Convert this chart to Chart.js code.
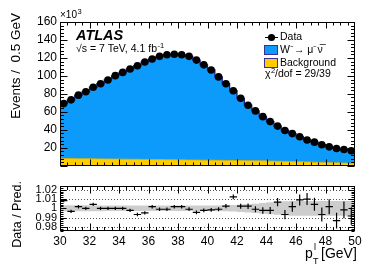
<!DOCTYPE html>
<html>
<head>
<meta charset="utf-8">
<script src="https://cdn.jsdelivr.net/npm/chart.js@4"></script>
<style>
html, body { margin: 0; padding: 0; background: #fff; }
#wrap { position: relative; width: 374px; height: 268px; }
#top { position: absolute; left: 0; top: 0; width: 374px; height: 176px; }
#bot { position: absolute; left: 0; top: 176px; width: 374px; height: 92px; }
</style>
</head>
<body>
<div id="wrap">
  <div id="top"><canvas id="mainChart"></canvas></div>
  <div id="bot"><canvas id="ratioChart"></canvas></div>
</div>
<script>
// bin centres of the muon pT histogram, 0.5 GeV bins
const binCenters = [30.25, 30.75, 31.25, 31.75, 32.25, 32.75, 33.25, 33.75, 34.25, 34.75,
    35.25, 35.75, 36.25, 36.75, 37.25, 37.75, 38.25, 38.75, 39.25, 39.75,
    40.25, 40.75, 41.25, 41.75, 42.25, 42.75, 43.25, 43.75, 44.25, 44.75,
    45.25, 45.75, 46.25, 46.75, 47.25, 47.75, 48.25, 48.75, 49.25, 49.75];
const binHalf = 0.25;

// events per bin, in units of 10^3
const dataEvents = [69.2, 73.4, 78.6, 82.4, 87.4, 91.3, 95.5, 100.3, 103.9, 107.7,
    111.3, 115.5, 118.9, 121.8, 123.5, 124.2, 123.5, 121.8, 117.6, 112.3,
    106.6, 98.9, 91.3, 83.5, 75.1, 67.4, 61.1, 54.7, 49.2, 44.2,
    39.3, 35.8, 32.3, 28.7, 26.3, 23.5, 21.1, 19.3, 18.2, 16.8];
const sigW = [61.1, 65.4, 70.7, 74.5, 79.6, 83.6, 87.9, 92.8, 96.5, 100.4,
    104.1, 108.4, 111.9, 114.9, 116.7, 117.5, 116.9, 115.3, 111.2, 106.0,
    100.4, 92.8, 85.3, 77.6, 69.3, 61.7, 55.5, 49.2, 43.9, 39.1,
    34.4, 31.1, 27.8, 24.4, 22.3, 19.7, 17.6, 16.0, 15.2, 14.0];
const bkg = [8.1, 8.0, 7.9, 7.9, 7.8, 7.7, 7.6, 7.5, 7.4, 7.3,
    7.2, 7.1, 7.0, 6.9, 6.8, 6.7, 6.6, 6.5, 6.4, 6.3,
    6.2, 6.1, 6.0, 5.9, 5.8, 5.7, 5.6, 5.5, 5.3, 5.1,
    4.9, 4.7, 4.5, 4.3, 4.0, 3.8, 3.5, 3.3, 3.0, 2.8];

// Data / Pred. panel
const ratio = [1.0083, 0.9967, 1.0017, 1.0, 1.0043, 1.0, 1.0, 1.0, 1.0, 0.9977,
    0.9933, 0.995, 1.0017, 0.999, 0.999, 1.0017, 1.0017, 0.999, 0.9957, 0.9977,
    0.9983, 0.999, 1.0023, 1.0123, 1.0023, 1.0023, 0.999, 0.9977, 0.9977, 1.0067,
    0.9933, 1.0017, 1.009, 1.01, 1.0043, 0.9933, 1.0017, 0.9867, 0.9983, 0.9917];
const ratioErr = [0.0018, 0.0018, 0.0018, 0.0018, 0.0018, 0.0018, 0.0018, 0.0018, 0.0018, 0.0018,
    0.0018, 0.0018, 0.0018, 0.0018, 0.0018, 0.0018, 0.0019, 0.002, 0.002, 0.002,
    0.0021, 0.0022, 0.0023, 0.0025, 0.0027, 0.003, 0.0032, 0.0035, 0.0038, 0.0045,
    0.005, 0.0055, 0.006, 0.0065, 0.007, 0.0075, 0.008, 0.0085, 0.009, 0.0095];
const systBand = [0.0033, 0.0033, 0.0032, 0.0032, 0.0031, 0.0031, 0.003, 0.003, 0.003, 0.003,
    0.003, 0.003, 0.003, 0.003, 0.003, 0.003, 0.003, 0.003, 0.003, 0.003,
    0.003, 0.0031, 0.0032, 0.0035, 0.004, 0.0045, 0.005, 0.0058, 0.0065, 0.007,
    0.0075, 0.008, 0.008, 0.008, 0.008, 0.008, 0.008, 0.008, 0.008, 0.008];

const ratioDotted = [0.98, 0.99, 1.01, 1.02];

const FONT = "'Liberation Sans', Arial, Helvetica, sans-serif";
const BLUE = '#0d9bfb';
const YELLOW = '#ffcc00';
Chart.defaults.font.family = FONT;
Chart.defaults.color = '#000';

// stepped histogram outline: value held from left bin edge to next edge
function steps(vals) {
    const pts = binCenters.map((c, i) => ({ x: c - binHalf, y: vals[i] }));
    pts.push({ x: binCenters[binCenters.length - 1] + binHalf, y: vals[vals.length - 1] });
    return pts;
}

const predTotal = sigW.map((v, i) => v + bkg[i]);

// ROOT style frame with inward ticks on all four sides
const rootFrame = {
    id: 'rootFrame',
    afterDraw(chart, args, o) {
        const { ctx, chartArea: a, scales: { x, y } } = chart;
        ctx.save();
        ctx.strokeStyle = '#000';
        ctx.lineWidth = 1;
        const L = Math.round(a.left) + 0.5, R = Math.round(a.right) - 0.5;
        const T = Math.round(a.top) + 0.5, B = Math.round(a.bottom) - 0.5;
        ctx.strokeRect(L, T, R - L, B - T);
        ctx.beginPath();
        let n = Math.round((x.max - x.min) / o.xMinor);
        for (let i = 1; i < n; i++) {
            const v = x.min + i * o.xMinor;
            const len = (i % o.xDiv === 0) ? o.xMajorLen : o.xMinorLen;
            const px = Math.round(x.getPixelForValue(v)) + 0.5;
            ctx.moveTo(px, B); ctx.lineTo(px, B - len);
            ctx.moveTo(px, T); ctx.lineTo(px, T + len);
        }
        const y0 = Math.ceil(y.min / o.yMinor - 1e-6);
        const y1 = Math.floor(y.max / o.yMinor + 1e-6);
        for (let k = y0; k <= y1; k++) {
            const v = k * o.yMinor;
            const major = Math.abs(k % o.yDiv) === 0;
            const len = major ? o.yMajorLen : o.yMinorLen;
            const py = Math.round(y.getPixelForValue(v)) + 0.5;
            ctx.moveTo(L, py); ctx.lineTo(L + len, py);
            ctx.moveTo(R, py); ctx.lineTo(R - len, py);
        }
        ctx.stroke();
        ctx.restore();
    }
};

function supText(ctx, base, sup, x, y, size, supSize) {
    ctx.font = size + 'px ' + FONT;
    ctx.fillText(base, x, y);
    const w = ctx.measureText(base).width;
    ctx.font = supSize + 'px ' + FONT;
    ctx.fillText(sup, x + w + 0.5, y - size * 0.4);
}

const mainText = {
    id: 'mainText',
    afterDraw(chart) {
        const ctx = chart.ctx;
        ctx.save();
        ctx.fillStyle = '#000';
        ctx.textBaseline = 'alphabetic';
        ctx.textAlign = 'left';
        // exponent of the y axis
        supText(ctx, '\u00d710', '3', 60, 18, 10, 7.5);

        ctx.font = 'bold italic 14.5px ' + FONT;
        ctx.fillText('ATLAS', 76, 40);
        supText(ctx, '\u221as = 7 TeV, 4.1 fb', '-1', 76, 52, 10.5, 7.5);

        // legend
        ctx.strokeStyle = '#000';
        ctx.lineWidth = 1;
        ctx.beginPath(); ctx.moveTo(265, 37.5); ctx.lineTo(278, 37.5); ctx.stroke();
        ctx.beginPath(); ctx.arc(271.5, 37.5, 3.6, 0, Math.PI * 2); ctx.fill();
        ctx.font = '10.5px ' + FONT;
        ctx.textBaseline = 'middle';
        ctx.fillText('Data', 280, 37.5);

        ctx.strokeStyle = '#3b2f96';
        ctx.fillStyle = BLUE;
        ctx.fillRect(264.5, 45.5, 13, 9);
        ctx.strokeRect(264.5, 45.5, 13, 9);
        ctx.fillStyle = YELLOW;
        ctx.fillRect(264.5, 58.5, 13, 9);
        ctx.strokeRect(264.5, 58.5, 13, 9);
        ctx.fillStyle = '#000';
        ctx.fillText('W\u207b\u2192 \u03bc\u207b\u03bd\u0305', 280, 50);
        ctx.fillText('Background', 280, 63);
        ctx.textBaseline = 'alphabetic';
        supText(ctx, '\u03c7', '2', 265, 77, 10.5, 7.5);
        ctx.font = '10.5px ' + FONT;
        ctx.fillText('/dof = 29/39', 275, 77);

        // y title
        ctx.save();
        ctx.translate(16.5, 13);
        ctx.rotate(-Math.PI / 2);
        ctx.textAlign = 'right';
        ctx.textBaseline = 'middle';
        ctx.font = '13.5px ' + FONT;
        ctx.fillText('Events /  0.5 GeV', 0, 0);
        ctx.restore();
        ctx.restore();
    }
};

const ratioText = {
    id: 'ratioText',
    beforeDatasetsDraw(chart) {
        const { ctx, chartArea: a, scales: { y } } = chart;
        ctx.save();
        ctx.strokeStyle = '#555';
        ctx.lineWidth = 1;
        ctx.setLineDash([1, 2]);
        ctx.beginPath();
        ratioDotted.forEach(v => {
            const py = Math.round(y.getPixelForValue(v)) + 0.5;
            ctx.moveTo(a.left, py); ctx.lineTo(a.right, py);
        });
        ctx.stroke();
        ctx.restore();
    },
    afterDraw(chart) {
        const ctx = chart.ctx;
        ctx.save();
        ctx.fillStyle = '#000';
        ctx.save();
        ctx.translate(18, 5);
        ctx.rotate(-Math.PI / 2);
        ctx.textAlign = 'right';
        ctx.textBaseline = 'middle';
        ctx.font = '12.5px ' + FONT;
        ctx.fillText('Data / Pred.', 0, 0);
        ctx.restore();

        // x title: p_T^l [GeV]
        ctx.textBaseline = 'alphabetic';
        ctx.textAlign = 'left';
        ctx.font = '14px ' + FONT;
        ctx.fillText('p', 305, 82);
        ctx.font = '9px ' + FONT;
        ctx.fillText('l', 314, 74);
        ctx.fillText('T', 313, 88);
        ctx.font = '14px ' + FONT;
        ctx.fillText('[GeV]', 321, 82);
        ctx.restore();
    }
};

const errorBars = {
    id: 'errorBars',
    afterDatasetsDraw(chart) {
        const { ctx, chartArea: a, scales: { x, y } } = chart;
        ctx.save();
        ctx.beginPath();
        ctx.rect(a.left, a.top, a.right - a.left, a.bottom - a.top);
        ctx.clip();
        ctx.strokeStyle = '#000';
        ctx.lineWidth = 1.2;
        ctx.beginPath();
        binCenters.forEach((c, i) => {
            const px = x.getPixelForValue(c);
            const py = y.getPixelForValue(ratio[i]);
            ctx.moveTo(x.getPixelForValue(c - binHalf), py);
            ctx.lineTo(x.getPixelForValue(c + binHalf), py);
            ctx.moveTo(px, y.getPixelForValue(ratio[i] - ratioErr[i]));
            ctx.lineTo(px, y.getPixelForValue(ratio[i] + ratioErr[i]));
        });
        ctx.stroke();
        ctx.restore();
    }
};

const mainChart = new Chart(document.getElementById('mainChart'), {
    type: 'line',
    data: {
        datasets: [{
            label: 'Data',
            data: binCenters.map((c, i) => ({ x: c, y: dataEvents[i] })),
            showLine: false,
            pointRadius: 3.8,
            pointBackgroundColor: '#000',
            pointBorderWidth: 0
        }, {
            label: 'Background',
            data: steps(bkg),
            stepped: true,
            fill: 'origin',
            backgroundColor: YELLOW,
            borderColor: '#e0b000',
            borderWidth: 0.8,
            pointRadius: 0
        }, {
            label: 'W -> mu nu',
            data: steps(predTotal),
            stepped: true,
            fill: 'origin',
            backgroundColor: BLUE,
            borderColor: '#1f1f9e',
            borderWidth: 1.3,
            pointRadius: 0
        }]
    },
    options: {
        responsive: true,
        maintainAspectRatio: false,
        animation: false,
        events: [],
        layout: { padding: { top: 22, right: 19, bottom: 2, left: 0 } },
        plugins: {
            legend: { display: false },
            tooltip: { enabled: false },
            rootFrame: { xMinor: 0.5, xDiv: 4, xMajorLen: 6, xMinorLen: 3, yMinor: 4, yDiv: 5, yMajorLen: 7, yMinorLen: 3.5 }
        },
        scales: {
            x: { type: 'linear', min: 30, max: 50, display: false },
            y: {
                min: 0,
                max: 160,
                afterFit(scale) { scale.width = 60; },
                grid: { display: false, drawTicks: false },
                border: { display: false },
                ticks: {
                    stepSize: 20,
                    padding: 3,
                    autoSkip: false,
                    font: { size: 12 },
                    callback: v => (v === 0 ? '' : v)
                }
            }
        }
    },
    plugins: [rootFrame, mainText]
});

const ratioChart = new Chart(document.getElementById('ratioChart'), {
    type: 'line',
    data: {
        datasets: [{
            label: 'Data / Pred.',
            data: binCenters.map((c, i) => ({ x: c, y: ratio[i] })),
            showLine: false,
            pointRadius: 0
        }, {
            label: 'syst low',
            data: steps(systBand.map(s => 1 - s)),
            stepped: true,
            borderWidth: 0,
            pointRadius: 0,
            fill: false
        }, {
            label: 'syst high',
            data: steps(systBand.map(s => 1 + s)),
            stepped: true,
            borderWidth: 0,
            pointRadius: 0,
            fill: '-1',
            backgroundColor: '#cdcdcd'
        }]
    },
    options: {
        responsive: true,
        maintainAspectRatio: false,
        animation: false,
        events: [],
        layout: { padding: { top: 2, right: 19, bottom: 0, left: 0 } },
        plugins: {
            legend: { display: false },
            tooltip: { enabled: false },
            rootFrame: { xMinor: 0.5, xDiv: 4, xMajorLen: 7, xMinorLen: 3.5, yMinor: 0.002, yDiv: 5, yMajorLen: 6, yMinorLen: 3 }
        },
        scales: {
            x: {
                type: 'linear',
                min: 30,
                max: 50,
                afterFit(scale) { scale.height = 37; },
                grid: { display: false, drawTicks: false },
                border: { display: false },
                ticks: { stepSize: 2, padding: 3, maxRotation: 0, autoSkip: false, font: { size: 12 } }
            },
            y: {
                min: 0.9755,
                max: 1.0245,
                afterFit(scale) { scale.width = 60; },
                grid: { display: false, drawTicks: false },
                border: { display: false },
                ticks: {
                    stepSize: 0.01,
                    includeBounds: false,
                    autoSkip: false,
                    padding: 3,
                    font: { size: 11 },
                    callback: v => String(parseFloat(v.toFixed(3)))
                }
            }
        }
    },
    plugins: [rootFrame, ratioText, errorBars]
});
</script>
</body>
</html>
